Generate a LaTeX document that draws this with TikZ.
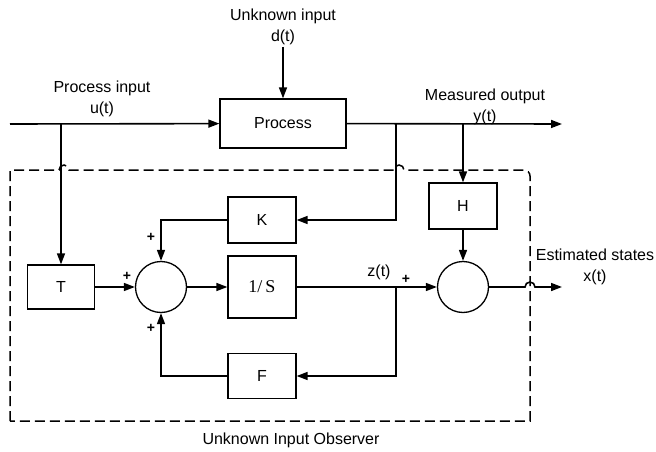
\documentclass[tikz,border=0pt]{standalone}
\usepackage{fontspec}
\setmainfont{Liberation Sans}
\newfontfamily\serifface{Liberation Serif}
\usetikzlibrary{arrows.meta,positioning}

\begin{document}
\begin{tikzpicture}[x=1pt,y=1pt,font=\fontsize{16}{21}\selectfont,>={Triangle[length=11pt,width=8pt]},line width=1.6pt]
\tikzset{blk/.style={draw,line width=1.3pt,minimum width=68pt,minimum height=46pt,inner sep=0pt},
  sumc/.style={draw,circle,line width=1.3pt,minimum size=51pt,inner sep=0pt},
  lbl/.style={align=center,inner sep=0pt},
  sgn/.style={font=\fontsize{14}{14}\selectfont\bfseries,inner sep=0pt},
  obsbox/.style={dash pattern=on 10pt off 5pt,line width=1.5pt}}
\useasboundingbox (0,0) rectangle (656,451);
% blocks
\node[blk,minimum width=126pt,minimum height=49pt] (proc) at (283,327.5) {Process};
\node[blk,minimum width=67pt,minimum height=44pt] (T) at (61,164) {T};
\node[sumc] (sum1) at (161,164) {};
\node[blk] (K) at (262,231) {K};
\node[blk,minimum height=62pt] (integ) at (262,164) {\serifface\fontsize{18}{18}\selectfont 1/\,S};
\node[blk,minimum height=45pt] (F) at (262,75) {F};
\node[blk] (H) at (463,245) {H};
\node[sumc] (sum2) at (463,164) {};
% taps and ends
\coordinate (uin) at (10,327);
\coordinate (utap) at (61,327);
\coordinate (ytap) at (396,327);
\coordinate (htap) at (463,327);
\coordinate (yout) at (562,327);
\coordinate (dsrc) at (283,404);
\coordinate (ztap) at (396,164);
\coordinate (hopx) at (525,164);
\coordinate (xout) at (562,164);
% observer frame
\draw[obsbox] (10,30) -- (10,281) -- (59,281) arc[start angle=180,end angle=0,radius=5]
  -- (394,281) arc[start angle=180,end angle=0,radius=5]
  -- (524,281) arc[start angle=90,end angle=0,radius=6] -- (530,30) -- cycle;
% signals
\draw[->] (uin) -- (proc);
\draw[->] (dsrc) -- (proc);
\draw[->] (proc) -- (yout);
\draw[->] (utap) -- (T);
\draw[->] (htap) -- (H);
\draw[->] (ytap) |- (K);
\draw[->] (T) -- (sum1);
\draw[->] (K) -| (sum1);
\draw[->] (F) -| (sum1);
\draw[->] (sum1) -- (integ);
\draw[->] (integ) -- (sum2);
\draw[->] (ztap) |- (F);
\draw[->] (H) -- (sum2);
\draw[->] (sum2) -- (hopx) arc[start angle=180,end angle=0,radius=5] -- (xout);
% labels
\node[lbl] (lblD) at (283,424) {Unknown input\\d(t)};
\node[lbl] (lblU) at (102,352) {Process input\\u(t)};
\node[lbl] (lblY) at (485,344) {Measured output\\y(t)};
\node[lbl] (lblX) at (595,184) {Estimated states\\x(t)};
\node[lbl] (lblZ) at (379,179) {z(t)};
\node[lbl] (lblObs) at (291,11) {Unknown Input Observer};
\node[sgn] (pT) at (127,175) {+};
\node[sgn] (pK) at (151,214) {+};
\node[sgn] (pF) at (151,123) {+};
\node[sgn] (pZ) at (406,172) {+};
\end{tikzpicture}
\end{document}
